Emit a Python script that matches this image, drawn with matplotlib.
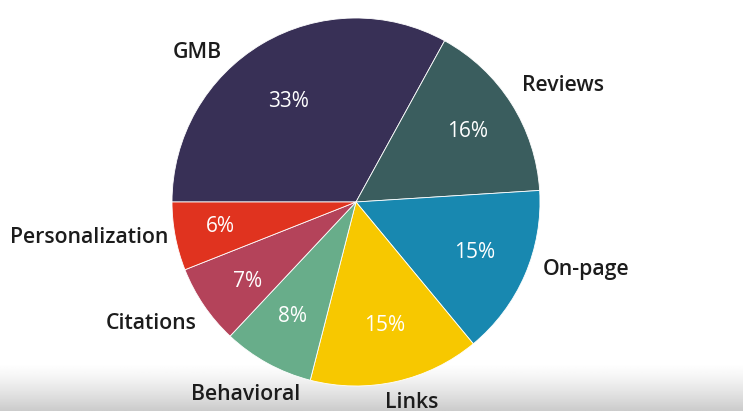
import matplotlib
matplotlib.use('Agg')
import matplotlib.pyplot as plt
import numpy as np

# Dados do grafico
categorias = ['GMB', 'Reviews', 'On-page', 'Links', 'Behavioral', 'Citations', 'Personalization']
valores = [33, 16, 15, 15, 8, 7, 6]
cores = ['#383056', '#3a5d5e', '#1888b0', '#f7c800', '#68ad8a', '#b4435a', '#e0331f']

# ajuste fino dos rotulos (graus somados ao angulo medio, distancia em raios)
desvio_rotulo = [11.2, 2.7, 3.4, -4.3, 12.6, 3.1, 0.0]
dist_rotulo = [1.09, 1.10, 1.08, 1.10, 1.09, 1.09, 1.04]
desvio_pct = [3.3, 0.0, 0.4, 0.6, -0.3, 2.0, -0.4]
dist_pct = [0.66, 0.72, 0.70, 0.69, 0.715, 0.73, 0.75]

W, H = 743, 411
fig = plt.figure(figsize=(W / 100, H / 100), dpi=100)

# faixa cinza no rodape (sombra do video)
bg = fig.add_axes([0, 0, 1, 1], zorder=0)
y = np.linspace(0, 1, H)
grad = np.clip((y - 0.885) / (1 - 0.885), 0, 1) ** 1.3
cinza = 1 - 0.2 * grad
img = np.repeat(cinza[:, None], 4, axis=1)
bg.imshow(img, cmap='gray', vmin=0, vmax=1, aspect='auto', extent=[0, 1, 1, 0])
bg.axis('off')

ax = fig.add_axes([0, 0, 1, 1], zorder=1)
ax.patch.set_alpha(0)

fatias, rotulos, pcts = ax.pie(
    valores, labels=categorias, colors=cores, startangle=180, counterclock=False,
    autopct='%d%%', pctdistance=0.7, labeldistance=1.09,
    wedgeprops=dict(edgecolor='white', linewidth=0.6),
)
for w, t, p, da, dr, pa, pr in zip(fatias, rotulos, pcts, desvio_rotulo, dist_rotulo,
                                   desvio_pct, dist_pct):
    meio = np.deg2rad((w.theta1 + w.theta2) / 2)
    a = meio + np.deg2rad(da)
    t.set_position((dr * np.cos(a), dr * np.sin(a)))
    t.set_horizontalalignment('left' if np.cos(a) > 0 else 'right')
    t.set_fontfamily(['Open Sans', 'DejaVu Sans'])
    t.set_fontsize(15.3)
    t.set_fontweight('semibold')
    t.set_color('#1c1c1c')
    b = meio + np.deg2rad(pa)
    p.set_position((pr * np.cos(b), pr * np.sin(b)))
    p.set_fontfamily(['Open Sans', 'DejaVu Sans'])
    p.set_fontsize(15)
    p.set_color('white')

# centro do pie em (356, 202) px, raio 184 px
cx, cy, r = 356, 202, 184
ax.set_aspect('auto')
ax.set_xlim(-cx / r, (W - cx) / r)
ax.set_ylim(-(H - cy) / r, cy / r)
ax.axis('off')

fig.savefig('out.png', dpi=100)
